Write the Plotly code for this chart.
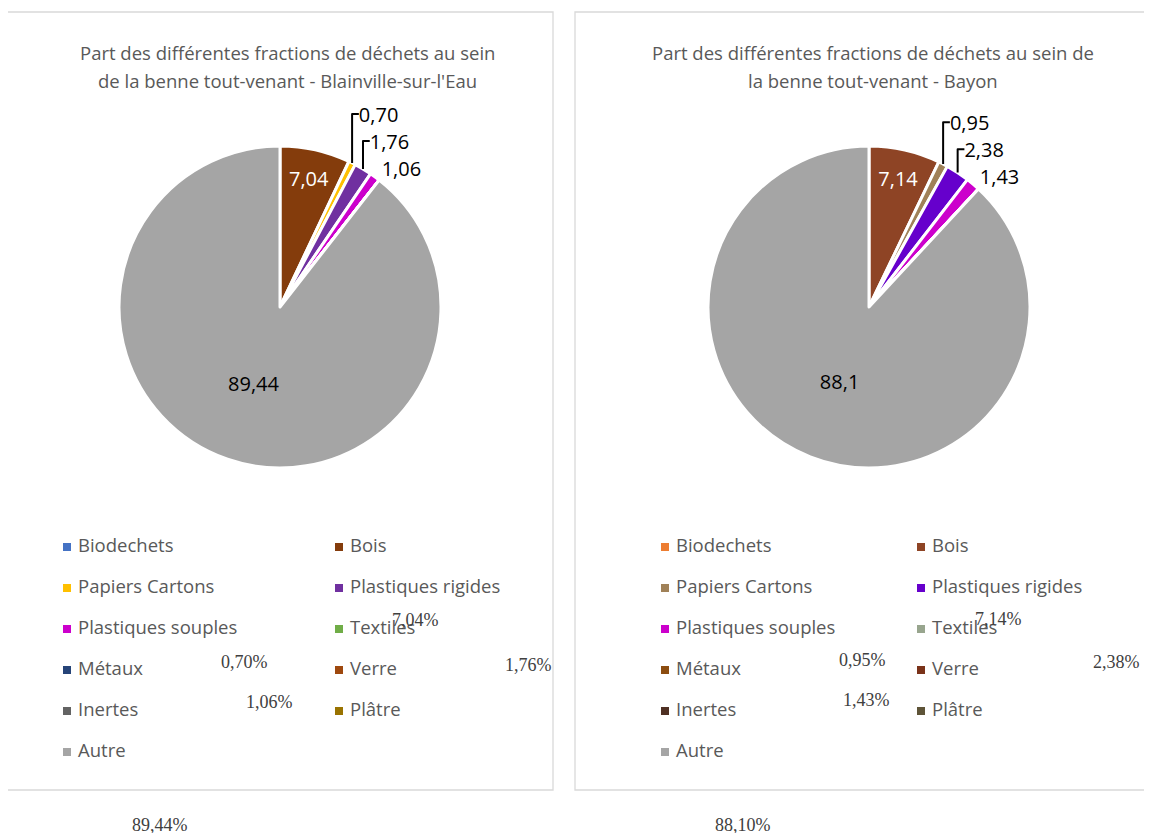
import plotly.graph_objects as go

# Catégories de déchets (ordre de la légende)
categories = ["Biodechets", "Bois", "Papiers Cartons", "Plastiques rigides",
              "Plastiques souples", "Textiles", "Métaux", "Verre",
              "Inertes", "Plâtre", "Autre"]

# Parts (%) - Blainville-sur-l'Eau
values_blainville = [0, 7.04, 0.70, 1.76, 1.06, 0, 0, 0, 0, 0, 89.44]
# Parts (%) - Bayon
values_bayon = [0, 7.14, 0.95, 2.38, 1.43, 0, 0, 0, 0, 0, 88.1]

colors_blainville = ["#4472C4", "#843C0C", "#FFC000", "#7030A0", "#CC00CC",
                     "#70AD47", "#264478", "#9E480E", "#636363", "#997300", "#A5A5A5"]
colors_bayon = ["#ED7D31", "#8E4425", "#A08158", "#6600CC", "#CC00CC",
                "#98A58E", "#8C4D10", "#7A3219", "#4F3023", "#5E5438", "#A5A5A5"]

titles = [
    ["Part des différentes fractions de déchets au sein",
     "de la benne tout-venant - Blainville-sur-l'Eau"],
    ["Part des différentes fractions de déchets au sein de",
     "la benne tout-venant - Bayon"],
]

# la page html garde une marge de 8 px : la figure couvre donc 8..1152
OFF = 8
W, H = 1152 - OFF, 833 - OFF
GREY_TXT = "#595959"
FONT = "Open Sans"


def fr(v, fmt):
    return format(v, fmt).replace(".", ",")


fig = go.Figure()

panels = [
    dict(values=values_blainville, colors=colors_blainville, fmt=".2f",
         cx=280, cy=307, box=(7, 553), tx=287, legx=(67, 339),
         stray=[(415, 620), (244, 662), (528, 665), (269, 702), (160, 825)]),
    dict(values=values_bayon, colors=colors_bayon, fmt="g",
         cx=869, cy=307, box=(575, 1170), tx=873, legx=(665, 921),
         stray=[(998, 619), (862, 660), (1116, 662), (866, 700), (743, 825)]),
]
R = 161

for k, p in enumerate(panels):
    vals = p["values"]
    # panneau
    fig.add_shape(type="rect", xref="x", yref="y", x0=p["box"][0], x1=p["box"][1],
                  y0=12, y1=790, line=dict(color="#D9D9D9", width=1.3), layer="below")
    # camembert
    txt = [fr(v, p["fmt"]) if v > 0 else "" for v in vals]
    txtcol = ["white" if c == "Bois" else "black" for c in categories]
    fig.add_trace(go.Pie(
        labels=categories, values=vals, text=txt, textinfo="text",
        sort=False, direction="clockwise", rotation=0,
        marker=dict(colors=p["colors"], line=dict(color="white", width=3)),
        textposition=["inside" if v > 5 else "outside" for v in vals],
        insidetextorientation="horizontal",
        insidetextfont=dict(family=FONT, size=20, color=txtcol),
        outsidetextfont=dict(family=FONT, size=20, color="black"),
        showlegend=False, hoverinfo="label+value",
        domain=dict(x=[(p["cx"] - R - OFF) / W, (p["cx"] + R - OFF) / W],
                    y=[1 - (p["cy"] + R - OFF) / H, 1 - (p["cy"] - R - OFF) / H]),
    ))
    # titre
    for j, line in enumerate(titles[k]):
        fig.add_annotation(x=p["tx"], y=52 + 28 * j, xref="x", yref="y",
                           text=line, showarrow=False,
                           font=dict(family=FONT, size=18.5, color=GREY_TXT))
    # légende
    lx = [p["legx"][i % 2] for i in range(len(categories))]
    ly = [547 + 41 * (i // 2) for i in range(len(categories))]
    fig.add_trace(go.Scatter(
        x=lx, y=ly, mode="markers", hoverinfo="skip", showlegend=False,
        marker=dict(symbol="square", size=8, color=p["colors"]),
    ))
    fig.add_trace(go.Scatter(
        x=[x + 11 for x in lx], y=ly, mode="text", text=categories,
        textposition="middle right", hoverinfo="skip", showlegend=False,
        textfont=dict(family=FONT, size=18.5, color=GREY_TXT),
    ))
    # étiquettes en pourcentage
    order = [1, 2, 3, 4, 10]
    for (sx, sy), idx in zip(p["stray"], order):
        fig.add_annotation(x=sx, y=sy, xref="x", yref="y",
                           text=fr(vals[idx], ".2f") + "%",
                           showarrow=False,
                           font=dict(family="Liberation Serif", size=18, color="#404040"))

fig.update_layout(
    width=W, height=H, margin=dict(l=0, r=0, t=0, b=0),
    paper_bgcolor="white", plot_bgcolor="white",
    xaxis=dict(range=[OFF, OFF + W], visible=False, domain=[0, 1], fixedrange=True),
    yaxis=dict(range=[OFF + H, OFF], visible=False, domain=[0, 1], fixedrange=True),
    showlegend=False,
)

fig.write_html("out.html")
